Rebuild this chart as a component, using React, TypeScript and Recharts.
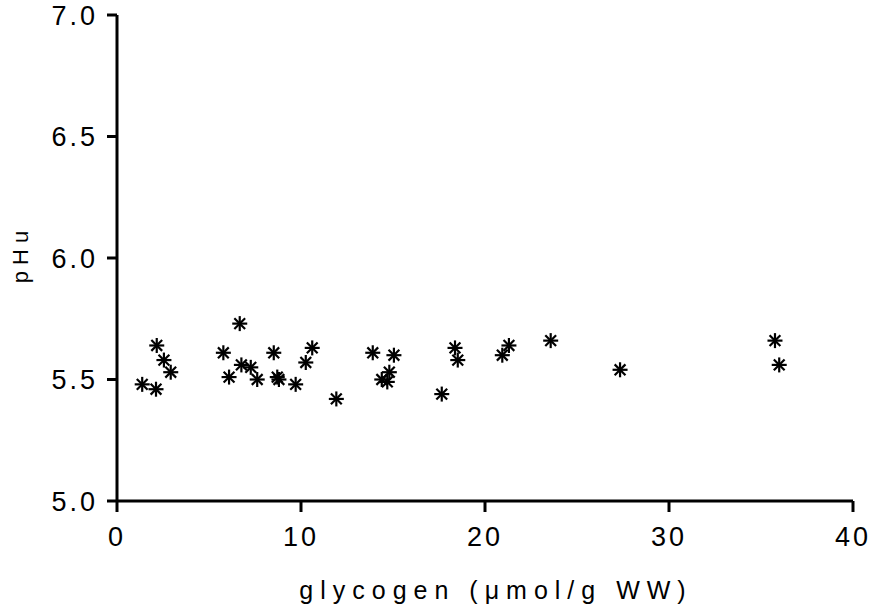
import { ScatterChart, Scatter, XAxis, YAxis } from "recharts";

// glycogen content (µmol/g WW) against ultimate pH
const glycogen = [
  1.37, 2.16, 2.12, 2.55, 2.92, 5.78, 6.09, 6.67, 6.76, 7.27, 7.62, 8.52, 8.71, 8.8, 9.71, 10.26,
  10.61, 11.92, 13.9, 14.39, 14.69, 14.8, 15.05, 17.65, 18.37, 18.52, 20.94, 21.3, 23.57, 27.34,
  35.76, 35.99,
];
const pHu = [
  5.48, 5.64, 5.46, 5.58, 5.53, 5.61, 5.51, 5.73, 5.56, 5.55, 5.5, 5.61, 5.51, 5.5, 5.48, 5.57,
  5.63, 5.42, 5.61, 5.5, 5.49, 5.53, 5.6, 5.44, 5.63, 5.58, 5.6, 5.64, 5.66, 5.54, 5.66, 5.56,
];
const xTicks = [0, 10, 20, 30, 40];
const yTicks = [5.0, 5.5, 6.0, 6.5, 7.0];

const points = glycogen.map((g, i) => ({ glycogen: g, pHu: pHu[i] }));

const font = '"Liberation Sans", Arial, sans-serif';

// eight-armed asterisk marker
const Star = (props: any) => {
  const { cx, cy } = props;
  const r = 7.5;
  const d = r * 0.72;
  return (
    <g stroke="#000" strokeWidth={2.2}>
      <line x1={cx} y1={cy - r} x2={cx} y2={cy + r} />
      <line x1={cx - r} y1={cy} x2={cx + r} y2={cy} />
      <line x1={cx - d} y1={cy - d} x2={cx + d} y2={cy + d} />
      <line x1={cx - d} y1={cy + d} x2={cx + d} y2={cy - d} />
    </g>
  );
};

const XLabel = (props: any) => {
  const { x, y, width, height } = props.viewBox;
  return (
    <text
      x={x + width / 2 + 11}
      y={y + height - 14}
      textAnchor="middle"
      fontFamily={font}
      fontSize={25}
      letterSpacing={7}
      fill="#000"
    >
      glycogen (μmol/g WW)
    </text>
  );
};

const YLabel = (props: any) => {
  const { y, height } = props.viewBox;
  const cx = 28;
  const cy = y + height / 2 - 4;
  return (
    <text
      x={cx}
      y={cy}
      transform={`rotate(-90 ${cx} ${cy})`}
      textAnchor="middle"
      fontFamily={font}
      fontSize={22}
      letterSpacing={6}
      fill="#000"
    >
      pHu
    </text>
  );
};

const tickStyle = { fontFamily: font, fontSize: 27, fill: "#000", letterSpacing: 3 };
const lineStyle = { stroke: "#000", strokeWidth: 3 };

export default function App() {
  return (
    <div style={{ position: "absolute", left: 0, top: 0, background: "#fff" }}>
      <style>{`
        .recharts-cartesian-axis-line,
        .recharts-cartesian-axis-tick-line { stroke: #000; stroke-width: 3px; }
      `}</style>
      <ScatterChart width={873} height={613} margin={{ top: 15, right: 20, bottom: 0, left: 0 }}>
        <XAxis
          type="number"
          dataKey="glycogen"
          domain={[0, 40]}
          ticks={xTicks}
          height={112}
          tickSize={11}
          tickMargin={15}
          tick={tickStyle}
          tickLine={lineStyle}
          axisLine={lineStyle}
          label={<XLabel />}
        />
        <YAxis
          type="number"
          dataKey="pHu"
          domain={[5, 7]}
          ticks={yTicks}
          tickFormatter={(v: number) => v.toFixed(1)}
          width={117}
          tickSize={10}
          tickMargin={9}
          tick={tickStyle}
          tickLine={lineStyle}
          axisLine={lineStyle}
          label={<YLabel />}
        />
        <Scatter data={points} shape={<Star />} isAnimationActive={false} />
      </ScatterChart>
    </div>
  );
}
